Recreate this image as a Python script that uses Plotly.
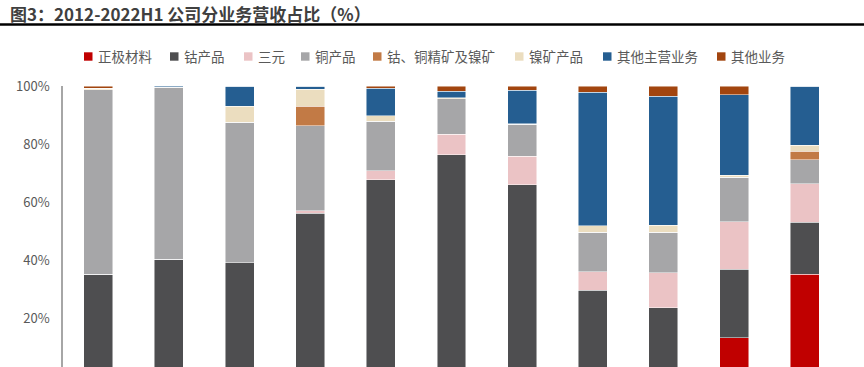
import plotly.graph_objects as go

categories = ["2012", "2013", "2014", "2015", "2016", "2017", "2018", "2019", "2020", "2021", "2022H1"]

series_names = ["正极材料", "钴产品", "三元", "铜产品", "钴、铜精矿及镍矿", "镍矿产品", "其他主营业务", "其他业务"]

cathode   = [0, 0, 0, 0, 0, 0, 0, 0, 0, 13.5, 35.3]
cobalt    = [35.3, 40.5, 39.2, 56.2, 67.8, 76.3, 66.1, 29.8, 23.8, 23.5, 17.8]
ternary   = [0, 0, 0, 0.9, 3.0, 7.1, 9.7, 6.3, 12.0, 16.3, 13.3]
copper    = [63.4, 59.1, 48.4, 29.3, 17.0, 12.3, 11.0, 13.7, 14.0, 15.4, 8.3]
ore       = [0, 0, 0, 6.6, 0, 0, 0, 0, 0, 0, 2.8]
nickel    = [0.6, 0.2, 5.4, 5.8, 2.0, 0.3, 0.3, 2.2, 2.3, 0.7, 2.1]
other_main = [0, 0.3, 7.0, 1.2, 9.5, 2.2, 11.4, 45.9, 44.3, 27.6, 20.4]
other     = [0.7, 0, 0, 0, 0.7, 1.8, 1.5, 2.1, 3.6, 3.0, 0]

tick_vals = [20, 40, 60, 80, 100]
tick_text = ["20%", "40%", "60%", "80%", "100%"]

colors = ["#C00000", "#4E4E50", "#EBC3C5", "#A6A6A8", "#C27A45", "#EBDDBF", "#255E91", "#A2450F"]
values = [cathode, cobalt, ternary, copper, ore, nickel, other_main, other]

# legend marker left edges (px) in the 864-wide canvas
legend_x = [84, 170, 244, 301, 373, 515, 603, 717]
legend_y = 56.5

W, H = 864, 367
ml, mr, mt, mb = 63, 24, 86, 0

fig = go.Figure()
for name, vals, col in zip(series_names, values, colors):
    fig.add_trace(go.Bar(
        x=categories, y=vals, name=name,
        marker=dict(color=col, line=dict(color="rgba(255,255,255,0.8)", width=0.6)),
        showlegend=False,
    ))

plot_h = H - mt - mb
plot_w = W - ml - mr

def py(px):
    return (H - mb - px) / plot_h

def pxx(px):
    return (px - ml) / plot_w

annotations = [
    dict(
        text="<b>图3：2012-2022H1 公司分业务营收占比（%）</b>",
        xref="paper", yref="paper",
        x=pxx(8), y=py(14), xanchor="left", yanchor="middle",
        showarrow=False,
        font=dict(size=17, color="#404040", family="Noto Sans CJK SC, sans-serif"),
    )
]
shapes = [
    dict(type="line", xref="paper", yref="paper",
         x0=pxx(0), x1=pxx(W), y0=py(24.5), y1=py(24.5),
         line=dict(color="black", width=2.5))
]

for name, col, lx in zip(series_names, colors, legend_x):
    shapes.append(dict(
        type="rect", xref="paper", yref="paper",
        x0=pxx(lx), x1=pxx(lx + 8.5),
        y0=py(legend_y + 4.2), y1=py(legend_y - 4.2),
        fillcolor=col, line=dict(width=0),
    ))
    annotations.append(dict(
        text=name, xref="paper", yref="paper",
        x=pxx(lx + 11.5), y=py(legend_y - 0.5),
        xanchor="left", yanchor="middle", showarrow=False,
        font=dict(size=13.5, color="#595959", family="Noto Sans CJK SC, sans-serif"),
    ))

fig.update_layout(
    width=W, height=H,
    margin=dict(l=ml, r=mr, t=mt, b=mb),
    barmode="stack",
    bargap=0.59,
    plot_bgcolor="white",
    paper_bgcolor="white",
    font=dict(family="Noto Sans CJK SC, Noto Sans, sans-serif", color="#595959", size=13),
    showlegend=False,
    xaxis=dict(
        showticklabels=False, showgrid=False, zeroline=False,
        showline=False, ticks="",
    ),
    yaxis=dict(
        range=[3.4, 100],
        tickvals=tick_vals, ticktext=tick_text,
        showgrid=False, zeroline=False,
        showline=True, linecolor="#A6A6A6", linewidth=1.5,
        ticks="outside", ticklen=0, ticklabelstandoff=9,
        tickfont=dict(size=13, color="#595959"),
    ),
    annotations=annotations,
    shapes=shapes,
)

fig.write_html("out.html")
